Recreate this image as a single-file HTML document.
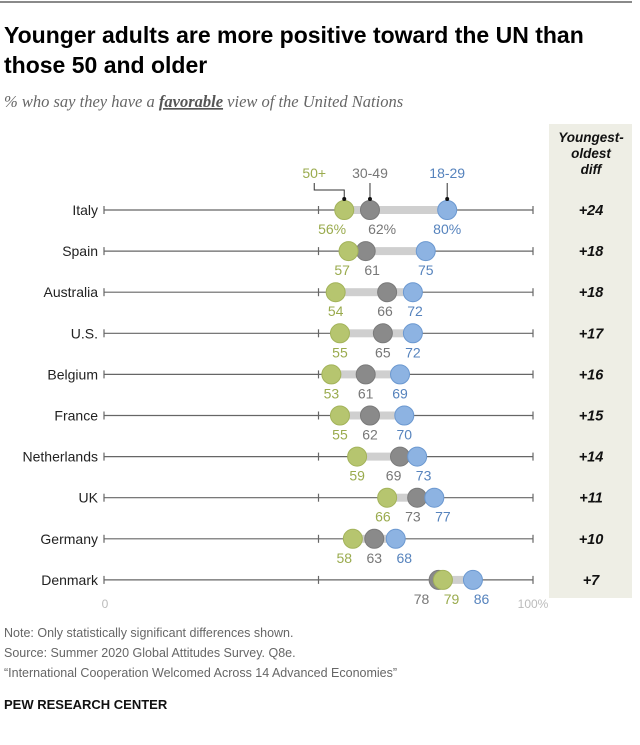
<!DOCTYPE html>
<html><head><meta charset="utf-8"><style>
body{margin:0;background:#fff;width:640px;height:740px;overflow:hidden;font-family:"Liberation Sans",sans-serif}
</style></head><body>
<svg width="640" height="740" xmlns="http://www.w3.org/2000/svg" id="chart">
<line x1="0" y1="2" x2="632" y2="2" stroke="#444" stroke-width="1.2"/>
<text x="4" y="43" font-size="23" font-weight="bold" fill="#000" font-family="Liberation Sans">Younger adults are more positive toward the UN than</text>
<text x="4" y="73" font-size="23" font-weight="bold" fill="#000" font-family="Liberation Sans">those 50 and older</text>
<text x="4" y="107" font-size="16.5" font-style="italic" fill="#666" font-family="Liberation Serif">% who say they have a <tspan font-weight="bold" text-decoration="underline" fill="#555">favorable</tspan> view of the United Nations</text>
<rect x="549" y="124" width="83" height="474" fill="#eeeee5"/>
<text x="591" y="142" font-size="13.5" font-weight="bold" font-style="italic" text-anchor="middle" fill="#111"><tspan x="591">Youngest-</tspan><tspan x="591" dy="16">oldest</tspan><tspan x="591" dy="16">diff</tspan></text>
<g id="rows"></g>
<text x="105" y="608" font-size="12" fill="#bbb" text-anchor="middle">0</text>
<text x="533" y="608" font-size="12" fill="#bbb" text-anchor="middle">100%</text>
<text x="4" y="637" font-size="12.5" fill="#666">Note: Only statistically significant differences shown.</text>
<text x="4" y="657" font-size="12.5" fill="#666">Source: Summer 2020 Global Attitudes Survey. Q8e.</text>
<text x="4" y="677" font-size="12.5" fill="#666">“International Cooperation Welcomed Across 14 Advanced Economies”</text>
<text x="4" y="709" font-size="13" font-weight="bold" fill="#111">PEW RESEARCH CENTER</text>
</svg>
<script>
const countries=["Italy","Spain","Australia","U.S.","Belgium","France","Netherlands","UK","Germany","Denmark"];
const age18=[80,75,72,72,69,70,73,77,68,86];
const age30=[62,61,66,65,61,62,69,73,63,78];
const age50=[56,57,54,55,53,55,59,66,58,79];
const diffs=["+24","+18","+18","+17","+16","+15","+14","+11","+10","+7"];
const NS="http://www.w3.org/2000/svg";
const x=v=>104+v*4.29;
const y=i=>210+i*41.1;
const g=document.getElementById('rows');
function mk(t,a,p){const e=document.createElementNS(NS,t);for(const k in a)e.setAttribute(k,a[k]);(p||g).appendChild(e);return e;}
countries.forEach((c,i)=>{
  const yy=y(i);
  const row=mk('g',{});
  
  
  const lbl=mk('text',{x:98,y:yy+5,'font-size':14,'text-anchor':'end',fill:'#222'},row);lbl.textContent=c;
  
  
  mk('line',{x1:x(0),x2:x(100),y1:yy,y2:yy,stroke:'#666','stroke-width':1.2},row);
  [0,50,100].forEach(t=>mk('line',{x1:x(t),x2:x(t),y1:yy-4,y2:yy+4,stroke:'#666','stroke-width':1.2},row));
  const lo=Math.min(age50[i],age30[i],age18[i]),hi=Math.max(age50[i],age30[i],age18[i]);
  const band=mk('rect',{x:x(lo),y:yy-4,width:x(hi)-x(lo),height:8,fill:'#cfcfcf'},row);
  
  
  const series=[[age30[i],'#8a8a8a','#7a7a7a','#777','age-30-49'],[age50[i],'#b6c56f','#a3b35a','#9aab4e','age-50-plus'],[age18[i],'#8db3e2','#6b98d0','#5683bd','age-18-29']];
  // label positions: push apart to avoid overlap
  const minGap=i===0?50:30;
  const lab=series.map((s,k)=>({k:k,p:x(s[0])}));
  lab.sort((a,b)=>a.p-b.p||(a.k===0?-1:1));
  for(let it=0;it<20;it++){
    for(let j=0;j<lab.length-1;j++){
      const d=lab[j+1].p-lab[j].p;
      if(d<minGap){const s=(minGap-d)/2;lab[j].p-=s;lab[j+1].p+=s;}
    }
  }
  const pos={};lab.forEach(l=>pos[l.k]=l.p);
  series.forEach((s,k)=>{
    const d=mk('circle',{cx:x(s[0]),cy:yy,r:9.5,fill:s[1],stroke:s[2],'stroke-width':1},row);
    
    
    const t=mk('text',{x:pos[k],y:yy+24,'font-size':14,'text-anchor':'middle',fill:s[3]},row);
    t.textContent=s[0]+(i===0?'%':'');
    
    
  });
  const dt=mk('text',{x:591,y:yy+5,'font-size':14.5,'font-weight':'bold','font-style':'italic','text-anchor':'middle',fill:'#111'},row);
  dt.textContent=diffs[i];
  
  
});
const y0=y(0);
const lg=mk('g',{});


mk('text',{x:x(age50[0])-30,y:y0-32,'font-size':14,fill:'#9aab4e','text-anchor':'middle'},lg).textContent='50+';
mk('polyline',{points:`${x(age50[0])-30},${y0-27} ${x(age50[0])-30},${y0-20} ${x(age50[0])},${y0-20} ${x(age50[0])},${y0-11}`,fill:'none',stroke:'#333','stroke-width':1},lg);
mk('circle',{cx:x(age50[0]),cy:y0-11,r:2,fill:'#111'},lg);
mk('text',{x:x(age30[0]),y:y0-32,'font-size':14,fill:'#777','text-anchor':'middle'},lg).textContent='30-49';
mk('line',{x1:x(age30[0]),x2:x(age30[0]),y1:y0-27,y2:y0-11,stroke:'#333'},lg);
mk('circle',{cx:x(age30[0]),cy:y0-11,r:2,fill:'#111'},lg);
mk('text',{x:x(age18[0]),y:y0-32,'font-size':14,fill:'#5683bd','text-anchor':'middle'},lg).textContent='18-29';
mk('line',{x1:x(age18[0]),x2:x(age18[0]),y1:y0-27,y2:y0-11,stroke:'#333'},lg);
mk('circle',{cx:x(age18[0]),cy:y0-11,r:2,fill:'#111'},lg);
</script>
</body></html>
